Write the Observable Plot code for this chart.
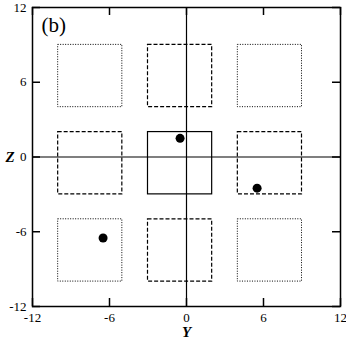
<!DOCTYPE html>
<html>
<head>
<meta charset="utf-8">
<script src="https://cdn.jsdelivr.net/npm/d3@7"></script>
<script src="https://cdn.jsdelivr.net/npm/@observablehq/plot@0.6"></script>
<style>
  html, body { margin: 0; padding: 0; background: #fff; }
  #chart svg, #chart svg text { font-family: "Liberation Serif", "Times New Roman", Times, serif !important; }
  #err { position: absolute; left: 40px; top: 40px; width: 300px; font: 9px monospace; color: red; }
</style>
</head>
<body>
<div id="chart"></div>
<div id="err"></div>
<script>
const xTicks = [-12, -6, 0, 6, 12];
const yTicks = [-12, -6, 0, 6, 12];
const panelLabel = ["(b)"];
const xLabel = ["Y"];
const yLabel = ["Z"];

const solidBoxes = [{ya: -3, yb: 2, za: -3, zb: 2}];
const dashedBoxes = [
  {ya: -3, yb: 2, za: 4, zb: 9},
  {ya: -10, yb: -5, za: -3, zb: 2},
  {ya: 4, yb: 9, za: -3, zb: 2},
  {ya: -3, yb: 2, za: -10, zb: -5}
];
const dottedBoxes = [
  {ya: -10, yb: -5, za: 4, zb: 9},
  {ya: 4, yb: 9, za: 4, zb: 9},
  {ya: -10, yb: -5, za: -10, zb: -5},
  {ya: 4, yb: 9, za: -10, zb: -5}
];
const pointY = [-0.5, 5.5, -6.5];
const pointZ = [1.5, -2.5, -6.5];
const markers = pointY.map((y, i) => ({py: y, pz: pointZ[i]}));

const W = 346, H = 346, ML = 32, MR = 6, MT = 7, MB = 40, TICK = 8;
const frameW = W - ML - MR, frameH = H - MT - MB;
const serif = "Liberation Serif, Times New Roman, serif";

try {
const svg = Plot.plot({
  width: W, height: H, marginLeft: ML, marginRight: MR, marginTop: MT, marginBottom: MB,
  style: {fontFamily: serif, background: "#fff", color: "#000"},
  x: {domain: [-12, 12], axis: null},
  y: {domain: [-12, 12], axis: null},
  marks: [
    Plot.rect(dottedBoxes, {x1: "ya", x2: "yb", y1: "za", y2: "zb", fill: "none", stroke: "#000", strokeWidth: 1, strokeDasharray: "1,1.5"}),
    Plot.rect(dashedBoxes, {x1: "ya", x2: "yb", y1: "za", y2: "zb", fill: "none", stroke: "#000", strokeWidth: 1.2, strokeDasharray: "4,2"}),
    Plot.rect(solidBoxes, {x1: "ya", x2: "yb", y1: "za", y2: "zb", fill: "none", stroke: "#000", strokeWidth: 1.2}),
    Plot.ruleX([0], {stroke: "#000", strokeWidth: 1.2}),
    Plot.ruleY([0], {stroke: "#000", strokeWidth: 1.2}),
    Plot.dot(markers, {x: "py", y: "pz", r: 4.5, fill: "#000", stroke: "none"}),
    Plot.ruleX(xTicks, {insetTop: frameH - TICK, stroke: "#000", strokeWidth: 1.5}),
    Plot.ruleX(xTicks, {insetBottom: frameH - TICK, stroke: "#000", strokeWidth: 1.5}),
    Plot.ruleY(yTicks, {insetRight: frameW - TICK, stroke: "#000", strokeWidth: 1.5}),
    Plot.ruleY(yTicks, {insetLeft: frameW - TICK, stroke: "#000", strokeWidth: 1.5}),
    Plot.axisX(xTicks, {anchor: "bottom", tickSize: 0, tickPadding: 6, fontSize: 13, label: null, tickFormat: d => String(d), fontFamily: serif}),
    Plot.axisY(yTicks, {anchor: "left", tickSize: 0, tickPadding: 6, fontSize: 13, label: null, tickFormat: d => String(d), fontFamily: serif}),
    Plot.frame({stroke: "#000", strokeWidth: 1.5}),
    Plot.text(panelLabel, {frameAnchor: "top-left", dx: 9, dy: 10, textAnchor: "start", lineAnchor: "top", fontSize: 21, fontFamily: serif}),
    Plot.text(xLabel, {frameAnchor: "bottom", dy: 30, fontSize: 15, fontWeight: "bold", fontStyle: "italic", fontFamily: serif}),
    Plot.text(yLabel, {frameAnchor: "left", dx: -27, fontSize: 15, fontWeight: "bold", fontStyle: "italic", fontFamily: serif})
  ]
});
document.getElementById("chart").appendChild(svg);
} catch (e) { document.getElementById("err").textContent = "ERR " + e; }
</script>
</body>
</html>
